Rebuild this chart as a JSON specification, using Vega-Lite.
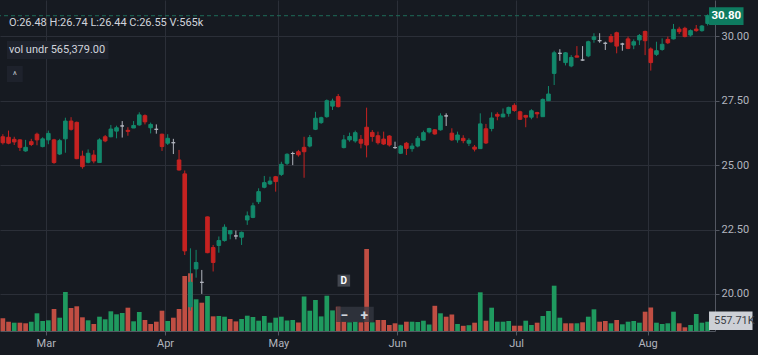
{
"$schema":"https://vega.github.io/schema/vega-lite/v6.json",
"width":715,"height":331,
"autosize":{"type":"none"},
"padding":{"left":0,"top":0,"right":43,"bottom":24},
"background":"#161a21",
"config":{
"view":{"stroke":null},
"axis":{"gridColor":"#2b2f38","gridWidth":1,"domainColor":"#535761","tickColor":"#535761","tickSize":4,"labelColor":"#b2b5be","labelFont":"Roboto","labelFontSize":11,"labelPadding":2,"title":null},
"text":{"font":"Roboto"}
},
"datasets":{"k":[
{"i":-1,"o":26.10,"h":26.20,"l":25.80,"c":25.87,"d":"dn","v":762,"vd":"vdn"},
{"i":0,"o":26.08,"h":26.34,"l":25.81,"c":25.85,"d":"dn","v":558,"vd":"vdn"},
{"i":1,"o":26.00,"h":26.10,"l":25.78,"c":25.90,"d":"dn","v":498,"vd":"vup"},
{"i":2,"o":25.98,"h":26.00,"l":25.55,"c":25.69,"d":"dn","v":498,"vd":"vdn"},
{"i":3,"o":25.55,"h":25.98,"l":25.52,"c":25.69,"d":"up","v":462,"vd":"vdn"},
{"i":4,"o":25.91,"h":26.02,"l":25.74,"c":25.80,"d":"dn","v":558,"vd":"vup"},
{"i":5,"o":26.20,"h":26.26,"l":25.77,"c":25.98,"d":"dn","v":1062,"vd":"vup"},
{"i":6,"o":25.72,"h":26.08,"l":25.69,"c":26.02,"d":"up","v":600,"vd":"vup"},
{"i":7,"o":25.98,"h":26.34,"l":25.81,"c":26.23,"d":"up","v":642,"vd":"vup"},
{"i":8,"o":25.98,"h":26.02,"l":25.05,"c":25.10,"d":"dn","v":1320,"vd":"vdn"},
{"i":9,"o":25.43,"h":26.02,"l":25.39,"c":25.95,"d":"up","v":798,"vd":"vup"},
{"i":10,"o":26.02,"h":26.84,"l":25.48,"c":26.71,"d":"up","v":2340,"vd":"vup"},
{"i":11,"o":26.71,"h":26.86,"l":26.34,"c":26.39,"d":"dn","v":1380,"vd":"vdn"},
{"i":12,"o":26.66,"h":26.69,"l":25.23,"c":25.25,"d":"dn","v":1482,"vd":"vdn"},
{"i":13,"o":25.35,"h":25.56,"l":24.86,"c":24.94,"d":"dn","v":822,"vd":"vdn"},
{"i":14,"o":25.11,"h":25.61,"l":25.07,"c":25.46,"d":"up","v":642,"vd":"vup"},
{"i":15,"o":25.39,"h":25.58,"l":25.07,"c":25.16,"d":"dn","v":420,"vd":"vdn"},
{"i":16,"o":25.10,"h":26.04,"l":25.10,"c":25.98,"d":"up","v":858,"vd":"vup"},
{"i":17,"o":26.10,"h":26.17,"l":25.89,"c":25.94,"d":"dn","v":702,"vd":"vup"},
{"i":18,"o":26.10,"h":26.56,"l":26.08,"c":26.40,"d":"up","v":1182,"vd":"vup"},
{"i":19,"o":26.32,"h":26.53,"l":26.04,"c":26.45,"d":"up","v":1002,"vd":"vup"},
{"i":20,"o":26.52,"h":26.71,"l":26.07,"c":26.52,"d":"fl","v":1080,"vd":"vup"},
{"i":21,"o":26.35,"h":26.47,"l":26.14,"c":26.31,"d":"dn","v":1398,"vd":"vdn"},
{"i":22,"o":26.44,"h":26.71,"l":26.44,"c":26.54,"d":"up","v":582,"vd":"vup"},
{"i":23,"o":26.56,"h":27.05,"l":26.53,"c":26.95,"d":"up","v":1140,"vd":"vup"},
{"i":24,"o":26.92,"h":26.97,"l":26.58,"c":26.68,"d":"dn","v":660,"vd":"vdn"},
{"i":25,"o":26.45,"h":26.65,"l":26.23,"c":26.58,"d":"up","v":420,"vd":"vdn"},
{"i":26,"o":26.39,"h":26.58,"l":26.22,"c":26.39,"d":"fl","v":558,"vd":"vdn"},
{"i":27,"o":26.20,"h":26.22,"l":25.55,"c":25.72,"d":"dn","v":1218,"vd":"vdn"},
{"i":28,"o":25.85,"h":26.20,"l":25.78,"c":26.04,"d":"up","v":600,"vd":"vup"},
{"i":29,"o":25.87,"h":26.02,"l":25.43,"c":25.87,"d":"fl","v":798,"vd":"vdn"},
{"i":30,"o":25.20,"h":25.59,"l":24.79,"c":24.81,"d":"dn","v":1320,"vd":"vdn"},
{"i":31,"o":24.66,"h":24.79,"l":21.51,"c":21.67,"d":"dn","v":3300,"vd":"vdn"},
{"i":32,"o":19.50,"h":21.77,"l":19.35,"c":20.45,"d":"up","v":3462,"vd":"vdn"},
{"i":33,"o":20.97,"h":21.71,"l":20.63,"c":21.22,"d":"up","v":1902,"vd":"vup"},
{"i":34,"o":20.45,"h":20.93,"l":20.00,"c":20.45,"d":"fl","v":1698,"vd":"vdn"},
{"i":35,"o":22.99,"h":23.00,"l":21.58,"c":21.60,"d":"dn","v":2100,"vd":"vup"},
{"i":36,"o":21.80,"h":21.90,"l":20.87,"c":21.22,"d":"dn","v":880,"vd":"vdn"},
{"i":37,"o":21.88,"h":22.23,"l":21.60,"c":22.07,"d":"up","v":900,"vd":"vup"},
{"i":38,"o":22.07,"h":22.70,"l":22.03,"c":22.59,"d":"up","v":858,"vd":"vup"},
{"i":39,"o":22.33,"h":22.48,"l":22.12,"c":22.46,"d":"up","v":720,"vd":"vdn"},
{"i":40,"o":22.25,"h":22.46,"l":22.12,"c":22.25,"d":"fl","v":576,"vd":"vdn"},
{"i":41,"o":22.20,"h":22.42,"l":21.90,"c":22.39,"d":"up","v":720,"vd":"vup"},
{"i":42,"o":22.87,"h":23.20,"l":22.68,"c":23.03,"d":"up","v":918,"vd":"vup"},
{"i":43,"o":22.97,"h":23.54,"l":22.94,"c":23.42,"d":"up","v":840,"vd":"vup"},
{"i":44,"o":23.58,"h":24.10,"l":23.49,"c":23.97,"d":"up","v":618,"vd":"vup"},
{"i":45,"o":24.14,"h":24.58,"l":24.10,"c":24.32,"d":"up","v":900,"vd":"vup"},
{"i":46,"o":24.27,"h":24.55,"l":24.23,"c":24.38,"d":"up","v":498,"vd":"vup"},
{"i":47,"o":24.55,"h":24.58,"l":23.97,"c":24.36,"d":"dn","v":798,"vd":"vup"},
{"i":48,"o":24.64,"h":25.13,"l":24.58,"c":25.03,"d":"up","v":858,"vd":"vup"},
{"i":49,"o":25.07,"h":25.46,"l":25.00,"c":25.42,"d":"up","v":630,"vd":"vup"},
{"i":50,"o":25.45,"h":25.52,"l":25.00,"c":25.45,"d":"fl","v":660,"vd":"vup"},
{"i":51,"o":25.52,"h":25.59,"l":25.33,"c":25.40,"d":"dn","v":510,"vd":"vdn"},
{"i":52,"o":25.69,"h":26.10,"l":24.51,"c":25.52,"d":"dn","v":2070,"vd":"vup"},
{"i":53,"o":25.74,"h":26.17,"l":25.69,"c":26.07,"d":"up","v":1218,"vd":"vup"},
{"i":54,"o":26.39,"h":27.07,"l":26.36,"c":26.82,"d":"up","v":1860,"vd":"vup"},
{"i":55,"o":26.65,"h":26.88,"l":26.60,"c":26.84,"d":"up","v":876,"vd":"vup"},
{"i":56,"o":26.88,"h":27.55,"l":26.84,"c":27.50,"d":"up","v":2118,"vd":"vup"},
{"i":57,"o":27.29,"h":27.58,"l":27.14,"c":27.49,"d":"up","v":1236,"vd":"vup"},
{"i":58,"o":27.66,"h":27.76,"l":27.24,"c":27.27,"d":"dn","v":1458,"vd":"vdn"},
{"i":59,"o":25.68,"h":26.17,"l":25.65,"c":25.98,"d":"up","v":558,"vd":"vdn"},
{"i":60,"o":25.98,"h":26.26,"l":25.91,"c":26.11,"d":"up","v":522,"vd":"vup"},
{"i":61,"o":25.94,"h":26.34,"l":25.87,"c":26.26,"d":"up","v":558,"vd":"vup"},
{"i":62,"o":26.00,"h":26.17,"l":25.65,"c":25.85,"d":"dn","v":522,"vd":"vdn"},
{"i":63,"o":26.47,"h":27.23,"l":25.30,"c":25.78,"d":"dn","v":4920,"vd":"vdn"},
{"i":64,"o":26.27,"h":26.36,"l":25.91,"c":26.11,"d":"dn","v":522,"vd":"vup"},
{"i":65,"o":26.14,"h":26.30,"l":25.80,"c":25.87,"d":"dn","v":660,"vd":"vdn"},
{"i":66,"o":26.01,"h":26.30,"l":25.78,"c":25.82,"d":"dn","v":660,"vd":"vdn"},
{"i":67,"o":26.13,"h":26.16,"l":25.72,"c":25.78,"d":"dn","v":360,"vd":"vdn"},
{"i":68,"o":25.68,"h":25.91,"l":25.63,"c":25.68,"d":"fl","v":462,"vd":"vdn"},
{"i":69,"o":25.46,"h":25.78,"l":25.43,"c":25.74,"d":"up","v":378,"vd":"vup"},
{"i":70,"o":25.85,"h":25.90,"l":25.39,"c":25.65,"d":"dn","v":558,"vd":"vdn"},
{"i":71,"o":25.64,"h":25.85,"l":25.52,"c":25.74,"d":"up","v":558,"vd":"vup"},
{"i":72,"o":25.74,"h":26.13,"l":25.69,"c":26.04,"d":"up","v":540,"vd":"vup"},
{"i":73,"o":25.97,"h":26.34,"l":25.95,"c":26.26,"d":"up","v":618,"vd":"vup"},
{"i":74,"o":26.29,"h":26.45,"l":26.23,"c":26.42,"d":"up","v":390,"vd":"vup"},
{"i":75,"o":26.37,"h":26.40,"l":26.18,"c":26.21,"d":"dn","v":1512,"vd":"vdn"},
{"i":76,"o":26.37,"h":27.01,"l":26.34,"c":26.91,"d":"up","v":1062,"vd":"vup"},
{"i":77,"o":26.91,"h":27.01,"l":26.52,"c":26.91,"d":"fl","v":858,"vd":"vdn"},
{"i":78,"o":26.24,"h":26.43,"l":25.94,"c":25.98,"d":"dn","v":990,"vd":"vdn"},
{"i":79,"o":25.98,"h":26.30,"l":25.87,"c":26.17,"d":"up","v":420,"vd":"vup"},
{"i":80,"o":26.04,"h":26.16,"l":25.85,"c":25.95,"d":"dn","v":312,"vd":"vdn"},
{"i":81,"o":25.85,"h":26.04,"l":25.74,"c":25.96,"d":"up","v":348,"vd":"vup"},
{"i":82,"o":25.70,"h":25.78,"l":25.53,"c":25.62,"d":"dn","v":498,"vd":"vdn"},
{"i":83,"o":25.64,"h":27.01,"l":25.64,"c":26.60,"d":"up","v":2322,"vd":"vup"},
{"i":84,"o":26.41,"h":26.60,"l":25.82,"c":25.86,"d":"dn","v":618,"vd":"vdn"},
{"i":85,"o":26.42,"h":27.05,"l":26.31,"c":26.83,"d":"up","v":1398,"vd":"vup"},
{"i":86,"o":26.97,"h":27.05,"l":26.74,"c":26.90,"d":"dn","v":558,"vd":"vup"},
{"i":87,"o":26.87,"h":27.20,"l":26.87,"c":26.98,"d":"up","v":558,"vd":"vup"},
{"i":88,"o":27.01,"h":27.27,"l":26.88,"c":27.24,"d":"up","v":600,"vd":"vup"},
{"i":89,"o":27.32,"h":27.40,"l":27.07,"c":27.12,"d":"dn","v":318,"vd":"vdn"},
{"i":90,"o":27.07,"h":27.11,"l":26.75,"c":26.78,"d":"dn","v":318,"vd":"vdn"},
{"i":91,"o":26.93,"h":26.95,"l":26.47,"c":26.86,"d":"dn","v":618,"vd":"vup"},
{"i":92,"o":26.86,"h":27.17,"l":26.78,"c":27.11,"d":"up","v":360,"vd":"vup"},
{"i":93,"o":27.04,"h":27.07,"l":26.82,"c":26.99,"d":"dn","v":498,"vd":"vdn"},
{"i":94,"o":26.88,"h":27.59,"l":26.88,"c":27.55,"d":"up","v":900,"vd":"vup"},
{"i":95,"o":27.50,"h":28.07,"l":27.50,"c":27.76,"d":"up","v":1200,"vd":"vup"},
{"i":96,"o":28.56,"h":29.44,"l":28.11,"c":29.36,"d":"up","v":2718,"vd":"vup"},
{"i":97,"o":29.34,"h":29.50,"l":29.05,"c":29.34,"d":"fl","v":798,"vd":"vup"},
{"i":98,"o":28.98,"h":29.39,"l":28.87,"c":29.36,"d":"up","v":462,"vd":"vdn"},
{"i":99,"o":28.85,"h":29.27,"l":28.80,"c":29.18,"d":"up","v":462,"vd":"vdn"},
{"i":100,"o":29.24,"h":29.62,"l":29.19,"c":29.19,"d":"dn","v":462,"vd":"vup"},
{"i":101,"o":29.08,"h":29.62,"l":29.05,"c":29.08,"d":"fl","v":522,"vd":"vdn"},
{"i":102,"o":29.24,"h":29.83,"l":29.19,"c":29.79,"d":"up","v":858,"vd":"vup"},
{"i":103,"o":29.88,"h":30.12,"l":29.75,"c":29.98,"d":"up","v":1302,"vd":"vup"},
{"i":104,"o":29.83,"h":30.12,"l":29.75,"c":29.83,"d":"fl","v":558,"vd":"vdn"},
{"i":105,"o":29.73,"h":29.79,"l":29.47,"c":29.73,"d":"fl","v":600,"vd":"vdn"},
{"i":106,"o":29.99,"h":30.09,"l":29.75,"c":29.79,"d":"dn","v":462,"vd":"vup"},
{"i":107,"o":30.14,"h":30.18,"l":29.34,"c":29.62,"d":"dn","v":660,"vd":"vdn"},
{"i":108,"o":29.70,"h":29.75,"l":29.44,"c":29.70,"d":"fl","v":402,"vd":"vup"},
{"i":109,"o":29.90,"h":29.99,"l":29.50,"c":29.53,"d":"dn","v":558,"vd":"vup"},
{"i":110,"o":29.66,"h":29.88,"l":29.50,"c":29.79,"d":"up","v":600,"vd":"vup"},
{"i":111,"o":29.86,"h":30.09,"l":29.66,"c":30.03,"d":"up","v":498,"vd":"vup"},
{"i":112,"o":30.19,"h":30.22,"l":29.27,"c":29.83,"d":"dn","v":1158,"vd":"vdn"},
{"i":113,"o":29.51,"h":29.57,"l":28.67,"c":28.98,"d":"dn","v":1410,"vd":"vdn"},
{"i":114,"o":29.30,"h":29.79,"l":29.24,"c":29.44,"d":"up","v":498,"vd":"vup"},
{"i":115,"o":29.49,"h":29.92,"l":29.44,"c":29.69,"d":"up","v":420,"vd":"vup"},
{"i":116,"o":29.88,"h":29.99,"l":29.70,"c":29.75,"d":"dn","v":462,"vd":"vup"},
{"i":117,"o":29.90,"h":30.48,"l":29.88,"c":30.27,"d":"up","v":1158,"vd":"vup"},
{"i":118,"o":30.28,"h":30.37,"l":30.09,"c":30.18,"d":"dn","v":462,"vd":"vdn"},
{"i":119,"o":30.31,"h":30.37,"l":29.96,"c":29.99,"d":"dn","v":222,"vd":"vdn"},
{"i":120,"o":30.05,"h":30.27,"l":29.99,"c":30.22,"d":"up","v":360,"vd":"vup"},
{"i":121,"o":30.28,"h":30.44,"l":30.18,"c":30.22,"d":"dn","v":1020,"vd":"vup"},
{"i":122,"o":30.22,"h":30.44,"l":30.18,"c":30.40,"d":"up","v":498,"vd":"vup"},
{"i":123,"o":30.50,"h":30.85,"l":30.42,"c":30.80,"d":"up","v":557.71,"vd":"vup"}
]},
"layer":[
{"data":{"name":"k"},"mark":{"type":"bar","size":4.7},
 "encoding":{
  "x":{"field":"i","type":"quantitative","scale":{"domain":[-0.625,123.42],"nice":false,"zero":false},"axis":{"values":[6.54,27.53,47.48,68.37,89.3,112.44],"labelExpr":"datum.value < 10 ? 'Mar' : datum.value < 30 ? 'Apr' : datum.value < 50 ? 'May' : datum.value < 70 ? 'Jun' : datum.value < 100 ? 'Jul' : 'Aug'","title":null,"grid":true}},
  "y":{"field":"v","type":"quantitative","scale":{"domain":[0,19860],"nice":false,"zero":true},"axis":null},
  "color":{"field":"vd","type":"nominal","scale":{"domain":["up","dn","fl","vup","vdn"],"range":["#12886b","#c62221","#b2b5be","#1f9a5f","#c04e43"]},"legend":null}
 }},
{"layer":[
 {"data":{"values":[{}]},"mark":{"type":"rule","strokeDash":[4,3],"color":"#1d6b58","strokeWidth":1},
  "encoding":{"y":{"datum":30.8,"type":"quantitative","scale":{"domain":[18.56,31.41],"nice":false,"zero":false},"axis":{"orient":"right","values":[20,22.5,25,27.5,30],"format":".2f","title":null,"grid":true}}}},
 {"data":{"name":"k"},"mark":{"type":"rule","strokeWidth":1},
  "encoding":{
   "x":{"field":"i","type":"quantitative","scale":{"domain":[-0.625,123.42],"nice":false,"zero":false},"axis":{"values":[6.54,27.53,47.48,68.37,89.3,112.44],"labelExpr":"datum.value < 10 ? 'Mar' : datum.value < 30 ? 'Apr' : datum.value < 50 ? 'May' : datum.value < 70 ? 'Jun' : datum.value < 100 ? 'Jul' : 'Aug'","title":null,"grid":true}},
   "y":{"field":"l","type":"quantitative","scale":{"domain":[18.56,31.41],"nice":false,"zero":false},"axis":{"orient":"right","values":[20,22.5,25,27.5,30],"format":".2f","title":null,"grid":true}},
   "y2":{"field":"h"},
   "color":{"field":"d","type":"nominal","scale":{"domain":["up","dn","fl","vup","vdn"],"range":["#12886b","#c62221","#b2b5be","#1f9a5f","#c04e43"]},"legend":null}
  }},
 {"data":{"name":"k"},"mark":{"type":"bar","size":3.6,"strokeWidth":1},
  "encoding":{
   "x":{"field":"i","type":"quantitative","scale":{"domain":[-0.625,123.42],"nice":false,"zero":false},"axis":{"values":[6.54,27.53,47.48,68.37,89.3,112.44],"labelExpr":"datum.value < 10 ? 'Mar' : datum.value < 30 ? 'Apr' : datum.value < 50 ? 'May' : datum.value < 70 ? 'Jun' : datum.value < 100 ? 'Jul' : 'Aug'","title":null,"grid":true}},
   "y":{"field":"o","type":"quantitative","scale":{"domain":[18.56,31.41],"nice":false,"zero":false},"axis":{"orient":"right","values":[20,22.5,25,27.5,30],"format":".2f","title":null,"grid":true}},
   "y2":{"field":"c"},
   "color":{"field":"d","type":"nominal","scale":{"domain":["up","dn","fl","vup","vdn"],"range":["#12886b","#c62221","#b2b5be","#1f9a5f","#c04e43"]},"legend":null},
   "stroke":{"field":"d","type":"nominal","scale":{"domain":["up","dn","fl"],"range":["#12886b","#c62221","#b2b5be"]},"legend":null}
  }},
 {"data":{"values":[{}]},"mark":{"type":"rect","color":"#1e222c"},
  "encoding":{"x":{"datum":-0.278,"type":"quantitative"},"x2":{"datum":17.59},"y":{"datum":29.818,"type":"quantitative"},"y2":{"datum":29.119}}},
 {"data":{"values":[{}]},"mark":{"type":"rect","color":"#1e222c"},
  "encoding":{"x":{"datum":-0.278,"type":"quantitative"},"x2":{"datum":2.498},"y":{"datum":28.847,"type":"quantitative"},"y2":{"datum":28.227}}},
 {"data":{"values":[{}]},"mark":{"type":"rect","color":"#42464f"},
  "encoding":{"x":{"datum":57.89,"type":"quantitative"},"x2":{"datum":60.1},"y":{"datum":20.749,"type":"quantitative"},"y2":{"datum":20.283}}},
 {"data":{"values":[{}]},"mark":{"type":"rect","color":"#363a43","opacity":0.75},
  "encoding":{"x":{"datum":57.67,"type":"quantitative"},"x2":{"datum":64.26},"y":{"datum":19.5,"type":"quantitative"},"y2":{"datum":18.91}}},
 {"data":{"values":[{}]},"mark":{"type":"rect","color":"#0e7b60"},
  "encoding":{"x":{"datum":123.25,"type":"quantitative"},"x2":{"datum":129.32},"y":{"datum":31.125,"type":"quantitative"},"y2":{"datum":30.438}}},
 {"data":{"values":[{}]},"mark":{"type":"rect","color":"#cdd0d6"},
  "encoding":{"x":{"datum":123.25,"type":"quantitative"},"x2":{"datum":130.9},"y":{"datum":19.313,"type":"quantitative"},"y2":{"datum":18.603}}},
 {"data":{"values":[{"t":"O:26.48  H:26.74  L:26.44  C:26.55  V:565k"}]},"mark":{"type":"text","align":"left","baseline":"middle","fontSize":11,"color":"#d1d4dc"},
  "encoding":{"x":{"datum":0.069,"type":"quantitative"},"y":{"datum":30.516,"type":"quantitative"},"text":{"field":"t"}}},
 {"data":{"values":[{"t":"vol undr  565,379.00"}]},"mark":{"type":"text","align":"left","baseline":"middle","fontSize":11,"color":"#d1d4dc"},
  "encoding":{"x":{"datum":0.069,"type":"quantitative"},"y":{"datum":29.468,"type":"quantitative"},"text":{"field":"t"}}},
 {"data":{"values":[{"t":"^"}]},"mark":{"type":"text","align":"center","baseline":"middle","fontSize":10,"dy":2,"color":"#b2b5be"},
  "encoding":{"x":{"datum":1.11,"type":"quantitative"},"y":{"datum":28.537,"type":"quantitative"},"text":{"field":"t"}}},
 {"data":{"values":[{"t":"D"}]},"mark":{"type":"text","align":"center","baseline":"middle","fontSize":10,"fontWeight":"bold","color":"#ffffff"},
  "encoding":{"x":{"datum":58.99,"type":"quantitative"},"y":{"datum":20.516,"type":"quantitative"},"text":{"field":"t"}}},
 {"data":{"values":[{"t":"−"}]},"mark":{"type":"text","align":"center","baseline":"middle","fontSize":14,"fontWeight":"bold","color":"#d1d4dc"},
  "encoding":{"x":{"datum":59.11,"type":"quantitative"},"y":{"datum":19.158,"type":"quantitative"},"text":{"field":"t"}}},
 {"data":{"values":[{"t":"+"}]},"mark":{"type":"text","align":"center","baseline":"middle","fontSize":14,"fontWeight":"bold","color":"#d1d4dc"},
  "encoding":{"x":{"datum":62.58,"type":"quantitative"},"y":{"datum":19.158,"type":"quantitative"},"text":{"field":"t"}}},
 {"data":{"values":[{"t":"30.80"}]},"mark":{"type":"text","align":"center","baseline":"middle","fontSize":11.5,"fontWeight":"bold","color":"#ffffff"},
  "encoding":{"x":{"datum":126.28,"type":"quantitative"},"y":{"datum":30.78,"type":"quantitative"},"text":{"field":"t"}}},
 {"data":{"values":[{"t":"557.71K"}]},"mark":{"type":"text","align":"left","baseline":"middle","fontSize":11,"color":"#3c3f47"},
  "encoding":{"x":{"datum":124.12,"type":"quantitative"},"y":{"datum":18.958,"type":"quantitative"},"text":{"field":"t"}}}
]}
],
"resolve":{"scale":{"y":"independent"}}
}
